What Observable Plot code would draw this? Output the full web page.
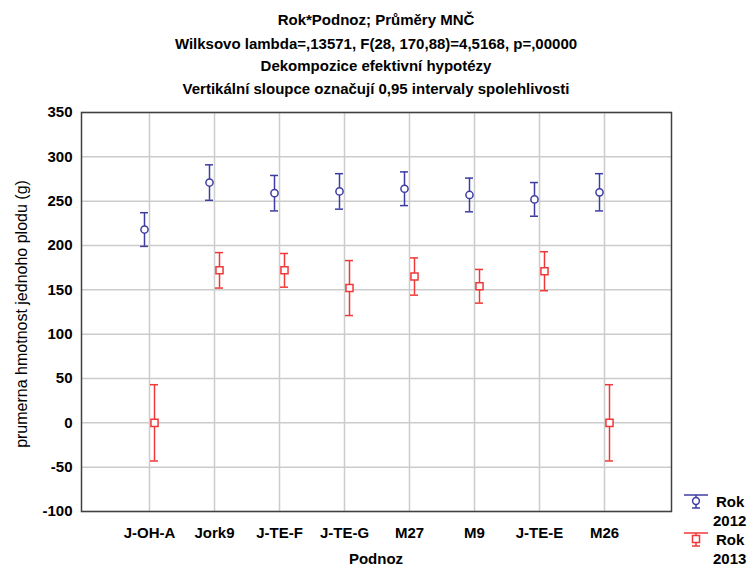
<!DOCTYPE html>
<html>
<head>
<meta charset="utf-8">
<script src="https://cdn.jsdelivr.net/npm/d3@7"></script>
<script src="https://cdn.jsdelivr.net/npm/@observablehq/plot@0.6"></script>
<style>
  html, body { margin: 0; padding: 0; background: #fff; }
  #chart { width: 753px; height: 566px; }
</style>
</head>
<body>
<div id="chart"></div>
<script>
// ---- data ----
const categories = ["J-OH-A", "Jork9", "J-TE-F", "J-TE-G", "M27", "M9", "J-TE-E", "M26"];
const mean2012 = [218, 271, 259, 261, 264, 257, 252, 260];
const err2012  = [19, 20, 20, 20, 19, 19, 19, 21];
const mean2013 = [0, 172, 172, 152, 165, 154, 171, 0];
const err2013  = [43, 20, 19, 31, 21, 19, 22, 43];
const yTicks = [-100, -50, 0, 50, 100, 150, 200, 250, 300, 350];
const titleLines = [
  "Rok*Podnoz; Průměry MNČ",
  "Wilksovo lambda=,13571, F(28, 170,88)=4,5168, p=,00000",
  "Dekompozice efektivní hypotézy",
  "Vertikální sloupce označují 0,95 intervaly spolehlivosti"
];
const xLabel = "Podnoz";
const yLabel = "prumerna hmotnost jednoho plodu (g)";
const legendLabels = [["Rok", "2012"], ["Rok", "2013"]];

const blue = "#3c3ca2";
const red = "#f03838";

const d2012 = categories.map((c, i) => ({cat: c, mean: mean2012[i], lo: mean2012[i] - err2012[i], hi: mean2012[i] + err2012[i]}));
const d2013 = categories.map((c, i) => ({cat: c, mean: mean2013[i], lo: mean2013[i] - err2013[i], hi: mean2013[i] + err2013[i]}));

const font = "'Liberation Sans', Arial, sans-serif";

function series(data, color, dx, symbol, r) {
  return [
    Plot.ruleX(data, {x: "cat", y1: "lo", y2: "hi", dx, stroke: color, strokeWidth: 1.5}),
    Plot.ruleY(data, {x1: "cat", x2: "cat", y: "hi", dx, stroke: color, strokeWidth: 1.5, insetLeft: -4, insetRight: -4}),
    Plot.ruleY(data, {x1: "cat", x2: "cat", y: "lo", dx, stroke: color, strokeWidth: 1.5, insetLeft: -4, insetRight: -4}),
    Plot.dot(data, {x: "cat", y: "mean", dx, symbol, r, stroke: color, strokeWidth: 1.5, fill: "white"})
  ];
}

const chart = Plot.plot({
  width: 753,
  height: 566,
  marginTop: 112,
  marginLeft: 81,
  marginRight: 82,
  marginBottom: 55,
  style: {fontFamily: font, fontSize: "15px", fontWeight: "bold", color: "#000", background: "#fff"},
  x: {type: "point", domain: categories, padding: 1, tickSize: 0, tickPadding: 16, label: null},
  y: {domain: [-100, 350], ticks: yTicks, tickSize: 0, tickPadding: 9, label: null, tickFormat: d => d < 0 ? "-" + Math.abs(d) : String(d)},
  marks: [
    Plot.gridX(categories, {stroke: "#cccccc", strokeWidth: 1.5, strokeOpacity: 1}),
    Plot.gridY(yTicks, {stroke: "#cccccc", strokeWidth: 1.5, strokeOpacity: 1}),
    Plot.frame({stroke: "#404040", strokeWidth: 1.5}),
    ...series(d2012, blue, -5, "circle", 3.6),
    ...series(d2013, red, 5, "square", 4)
  ]
});

document.getElementById("chart").appendChild(chart);

const svg = d3.select(chart);
// Title
const titleY = [19, 43, 65, 88];
titleLines.forEach((t, i) => {
  svg.append("text")
    .attr("x", 376).attr("y", titleY[i])
    .attr("text-anchor", "middle").attr("dominant-baseline", "central")
    .style("font-family", font).style("font-size", "15px").style("font-weight", "bold")
    .text(t);
});
// X label
svg.append("text")
  .attr("x", 376).attr("y", 558)
  .attr("text-anchor", "middle").attr("dominant-baseline", "central")
  .style("font-family", font).style("font-size", "15px").style("font-weight", "bold")
  .text(xLabel);
// Y label
svg.append("text")
  .attr("transform", "translate(21,314) rotate(-90)")
  .attr("text-anchor", "middle").attr("dominant-baseline", "central")
  .style("font-family", font).style("font-size", "16px").style("font-weight", "normal")
  .text(yLabel);
// Legend
const legendItems = [{color: blue, y: 495, sym: "circle"}, {color: red, y: 533, sym: "square"}];
legendItems.forEach((it, i) => {
  const g = svg.append("g").attr("stroke", it.color).attr("stroke-width", 1.5).attr("fill", "white");
  g.append("line").attr("x1", 684).attr("x2", 708).attr("y1", it.y).attr("y2", it.y);
  g.append("line").attr("x1", 696).attr("x2", 696).attr("y1", it.y).attr("y2", it.y + 13);
  g.append("line").attr("x1", 692).attr("x2", 700).attr("y1", it.y + 13).attr("y2", it.y + 13);
  if (it.sym === "circle") g.append("circle").attr("cx", 696).attr("cy", it.y + 6).attr("r", 3.4);
  else g.append("rect").attr("x", 692.5).attr("y", it.y + 2.5).attr("width", 7).attr("height", 7);
  svg.append("text").attr("x", 716).attr("y", it.y + 6).attr("dominant-baseline", "central")
    .attr("text-anchor", "start")
    .style("font-family", font).style("font-size", "15px").style("font-weight", "bold")
    .text(legendLabels[i][0]);
  svg.append("text").attr("x", 713).attr("y", it.y + 25).attr("dominant-baseline", "central")
    .attr("text-anchor", "start")
    .style("font-family", font).style("font-size", "15px").style("font-weight", "bold")
    .text(legendLabels[i][1]);
});
</script>
</body>
</html>
